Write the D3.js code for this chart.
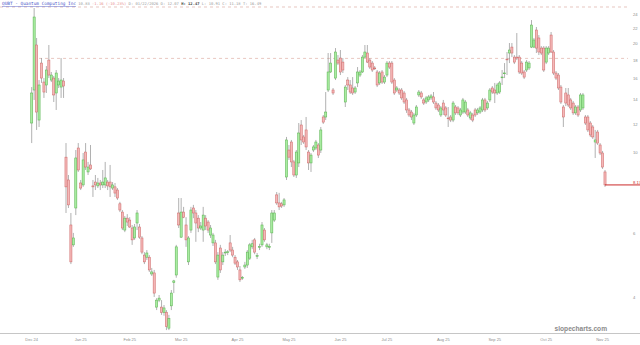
<!DOCTYPE html>
<html>
<head>
<meta charset="utf-8">
<script src="https://cdn.jsdelivr.net/npm/d3@7"></script>
<style>
  body { margin: 0; background: #fff; }
</style>
</head>
<body>
<script>
// QUBT daily candles (log price scale)
var open = [
  12.09,14.90,19.81,12.32,17.67,15.67,15.38,18.01,15.87,16.07,14.62,15.38,15.18,15.77,
  9.74,8.43,6.34,5.59,7.06,10.32,8.27,8.17,10.06,8.87,9.27,8.12,8.32,8.12,8.27,8.17,
  8.17,8.32,8.32,8.01,8.07,7.91,7.25,6.88,6.14,6.62,
  6.54,6.22,5.84,6.42,6.26,5.84,5.24,5.17,5.17,4.65,
  4.68,3.77,3.94,3.77,3.64,3.65,3.30,3.80,4.40,4.62,
  6.84,5.87,6.88,6.34,5.02,6.14,7.06,6.84,6.62,6.22,
  6.14,6.62,6.46,5.95,5.66,5.66,4.56,5.48,5.02,5.31,
  5.34,5.66,5.41,5.17,5.02,4.77,4.54,4.86,4.92,5.14,
  5.52,5.77,5.21,5.52,5.59,6.14,5.52,5.52,6.03,6.54,
  7.67,7.29,7.25,7.20,8.59,10.19,10.72,9.45,8.70,9.39,
  11.94,11.07,11.57,10.06,9.39,10.19,10.32,10.52,10.19,12.56,
  12.56,14.90,16.70,14.90,16.07,18.01,18.24,17.78,13.81,15.87,
  15.38,15.09,14.71,15.58,16.38,16.70,18.35,18.83,18.01,17.67,
  17.13,16.70,15.58,16.70,15.67,16.38,17.67,17.67,15.87,14.90,
  14.90,14.90,14.62,13.99,13.13,12.96,12.09,12.72,14.44,14.62,
  13.99,13.81,13.99,14.17,14.26,13.72,13.55,12.72,13.72,13.30,
  12.48,12.56,12.32,13.38,13.30,12.72,12.96,12.96,13.13,12.48,
  12.72,13.13,12.89,12.96,13.13,13.99,13.30,13.99,15.09,14.90,
  14.62,14.71,16.17,16.59,18.12,18.83,19.55,18.35,18.35,18.35,
  17.67,16.70,16.91,17.13,19.55,19.55,21.78,20.71,19.43,19.43,
  17.78,18.83,21.10,18.95,16.59,16.38,15.18,13.38,14.62,14.44,
  13.99,13.72,12.89,13.38,13.13,13.30,12.56,12.56,12.09,11.79,
  10.72,11.42,10.52,10.00,8.87
];
var high = [
  15.18,25.03,20.71,15.87,18.24,16.07,17.34,19.81,16.70,16.28,16.91,16.07,18.24,16.07,
  10.65,8.70,6.84,6.03,10.19,10.65,8.43,10.00,10.65,9.45,10.52,8.43,8.70,8.54,8.43,8.98,
  9.45,8.43,9.27,8.32,8.27,8.01,7.34,6.97,6.71,6.79,
  6.66,6.34,6.38,6.97,6.38,5.91,5.34,5.41,5.24,4.83,
  4.77,3.99,4.07,3.94,3.82,3.70,3.59,4.20,4.48,5.59,
  7.52,7.52,7.11,6.66,5.91,7.11,7.20,6.97,6.75,6.46,
  7.11,6.75,6.54,6.34,6.03,5.77,5.34,5.59,5.34,5.44,
  5.41,5.95,5.52,5.24,5.08,4.89,4.59,5.02,5.41,5.66,
  5.77,5.84,5.31,5.63,6.46,6.22,5.66,5.63,6.97,6.97,
  7.81,7.77,7.34,7.52,11.07,10.52,10.86,9.57,10.19,12.09,
  12.32,11.21,12.56,10.19,10.00,10.52,10.86,10.65,11.79,12.72,
  14.71,18.83,18.83,15.09,19.43,18.59,19.19,18.24,15.38,16.17,
  15.87,16.17,15.28,17.23,16.91,18.59,19.81,19.81,18.24,17.90,
  17.34,16.91,16.80,16.91,16.38,17.90,17.90,17.90,16.07,15.28,
  15.09,15.09,14.81,14.17,13.30,13.13,12.89,13.55,14.90,14.81,
  14.17,14.35,14.44,14.53,14.71,13.90,13.72,13.46,13.99,13.46,
  13.38,12.72,13.90,13.55,13.46,13.30,14.17,13.99,13.30,13.05,
  12.89,13.30,13.30,13.46,14.17,14.17,13.90,15.09,15.28,15.58,
  15.58,15.77,16.91,17.67,18.95,20.06,20.06,18.59,21.37,18.59,
  17.90,16.91,18.01,17.90,23.20,20.71,22.20,21.10,19.68,19.68,
  19.68,19.68,21.51,19.19,16.80,16.59,15.38,13.55,15.09,15.09,
  14.17,13.90,13.55,13.55,14.62,14.62,12.72,12.72,12.24,11.94,
  11.57,11.57,10.65,10.13,8.98
];
var low = [
  10.65,13.99,11.57,11.79,15.58,14.17,14.62,16.07,15.67,13.81,13.13,15.09,14.17,14.17,
  6.84,7.06,4.95,5.52,6.75,8.87,7.91,8.07,8.98,8.70,8.98,7.57,7.91,8.01,7.91,8.01,
  8.01,7.91,7.57,7.91,7.57,7.43,6.88,6.14,6.06,6.30,
  6.22,5.59,5.77,6.14,5.81,5.27,4.95,5.08,4.71,4.59,
  4.02,3.70,3.89,3.59,3.57,3.26,3.26,3.70,4.12,4.54,
  6.22,5.84,6.62,5.52,4.92,6.03,6.62,5.70,6.06,6.14,
  5.70,6.14,6.03,5.84,5.55,4.95,4.48,4.68,4.92,5.21,
  5.24,5.34,5.17,4.92,4.77,4.42,4.48,4.80,4.83,5.08,
  5.44,5.27,5.11,5.41,5.52,5.70,5.44,5.41,5.66,6.46,
  7.20,6.97,7.06,7.11,8.43,9.57,9.15,8.59,8.54,9.15,
  10.52,10.59,10.19,8.98,8.87,10.06,10.19,9.69,10.00,12.02,
  12.32,14.71,16.59,14.44,15.87,17.45,16.38,16.59,13.38,14.90,
  14.53,14.44,14.53,15.18,16.17,16.59,18.24,17.67,17.02,16.70,
  16.91,15.18,15.38,15.48,15.48,16.17,17.02,15.48,14.44,14.71,
  14.44,13.99,13.64,12.89,12.56,12.32,11.94,12.56,14.26,14.08,
  13.55,13.64,13.81,13.99,13.64,13.13,12.96,12.56,12.72,12.56,
  11.79,12.16,12.16,12.72,12.72,12.56,12.80,12.80,12.56,12.32,
  12.16,12.56,12.72,12.80,12.96,12.96,13.13,13.81,14.53,13.72,
  14.44,14.53,15.38,16.07,16.38,17.67,18.35,17.56,18.01,16.49,
  16.38,15.97,16.70,16.91,19.43,19.43,18.83,18.59,18.59,16.70,
  17.56,18.59,18.83,16.38,15.87,14.90,13.64,11.79,13.46,13.38,
  13.13,12.72,12.72,12.56,12.96,13.13,11.94,11.42,11.07,10.93,
  9.69,10.52,9.87,9.04,8.07
];
var close = [
  14.62,23.65,12.96,15.38,16.07,14.71,16.91,16.38,16.38,14.44,16.59,15.77,15.87,15.28,
  8.07,7.20,5.02,5.84,9.69,8.98,8.01,9.57,9.15,9.15,9.04,8.07,8.17,8.27,8.17,8.32,
  8.54,8.12,8.07,8.17,7.76,7.52,6.97,6.22,6.62,6.46,
  6.26,5.77,6.26,6.84,5.87,5.34,5.02,5.31,4.77,4.71,
  4.12,3.94,3.99,3.64,3.75,3.33,3.51,4.12,4.45,5.52,
  6.34,6.88,6.66,5.77,5.84,6.97,6.84,6.42,6.22,6.30,
  6.75,6.30,6.14,6.22,5.95,5.02,5.24,4.77,5.24,5.34,
  5.35,5.41,5.24,4.98,4.86,4.48,4.55,4.92,5.34,5.59,
  5.63,5.34,5.22,5.53,6.34,5.77,5.59,5.53,6.84,6.84,
  7.29,7.11,7.15,7.43,10.86,9.74,9.45,8.70,10.06,11.35,
  10.86,10.72,10.39,9.39,9.87,10.39,10.72,9.87,11.57,12.16,
  12.96,16.70,17.67,14.62,18.95,17.67,16.70,16.91,15.18,15.38,
  14.71,14.62,15.09,16.70,16.70,18.35,18.95,17.78,17.23,16.91,
  17.12,15.38,16.59,15.67,16.17,17.67,17.23,15.67,14.62,15.09,
  14.62,14.17,13.81,13.13,12.72,12.56,12.72,13.38,14.71,14.26,
  13.72,14.17,14.26,14.35,13.81,13.30,13.13,13.30,13.13,12.72,
  12.47,12.32,13.72,12.89,12.89,13.13,13.99,13.81,12.72,12.89,
  12.32,12.72,13.13,13.30,13.99,13.13,13.72,14.90,14.71,14.62,
  15.38,15.58,16.18,16.60,18.11,19.19,18.83,17.78,18.24,16.70,
  16.59,16.17,17.78,17.67,22.48,20.45,19.43,18.95,18.83,16.91,
  19.43,19.43,18.95,16.59,16.07,15.09,13.81,12.56,13.72,13.55,
  13.30,12.89,13.38,12.72,14.44,14.44,12.09,11.57,11.21,11.07,
  10.86,10.65,10.00,9.15,8.17
];

// month labels and the bar index where each one sits
var monthLabels = ["Dec 24","Jan 25","Feb 25","Mar 25","Apr 25","May 25","Jun 25","Jul 25","Aug 25","Sep 25","Oct 25","Nov 25"];
var monthIndex  = [0, 20, 40, 61, 84, 105, 126, 145, 168, 189, 210, 233];

var priceTicks = [4, 6, 8, 10, 12, 14, 16, 18, 20, 22, 24];

// dashed horizontal levels
var levelPrice = [25.2, 18.2];
var levelFrom  = [null, 3];

(function() {
  var width = 640, height = 345;
  var N = close.length;
  var last = close[N - 1];

  var svg = d3.select("body").append("svg")
    .attr("width", width)
    .attr("height", height)
    .style("display", "block");

  var x = d3.scaleLinear().domain([0, N - 1]).range([31.7, 605]);
  var y = d3.scaleLog().domain([3.2, 26.34]).range([333, 0]);

  // dashed levels
  levelPrice.forEach(function(p, k) {
    svg.append("line")
      .attr("x1", levelFrom[k] === null ? 0 : x(levelFrom[k]))
      .attr("x2", 628)
      .attr("y1", y(p))
      .attr("y2", y(p))
      .attr("stroke", "#e2b9b0")
      .attr("stroke-width", 0.8)
      .attr("stroke-dasharray", "3,3");
  });

  // header
  var header = svg.append("text")
    .attr("x", 2)
    .attr("y", 5)
    .style("font-family", "'DejaVu Sans Mono', monospace")
    .style("font-size", "3.8px")
    .attr("fill", "#9a9a9a");
  header.append("tspan")
    .text("QUBT - Quantum Computing Inc")
    .style("font-size", "4.4px")
    .attr("fill", "#4a55c8")
    .style("text-decoration", "underline");
  header.append("tspan").text("  10.83 ");
  header.append("tspan").text("-1.16 (-10.23%)").attr("fill", "#e89090");
  header.append("tspan").text("  D: 01/22/2026  O: 12.07 ");
  header.append("tspan").text("H: 12.47").attr("fill", "#444").style("font-weight", "bold");
  header.append("tspan").text("  L: 10.91  C: 11.18  T: 16.49");

  // bottom axis line
  svg.append("line")
    .attr("x1", 0).attr("x2", width)
    .attr("y1", 333.5).attr("y2", 333.5)
    .attr("stroke", "#c6c6c6")
    .attr("stroke-width", 1.2);

  svg.selectAll(".mlabel")
    .data(monthLabels)
    .enter().append("text")
    .attr("class", "mlabel")
    .attr("x", function(d, i) { return x(monthIndex[i]); })
    .attr("y", 340.5)
    .attr("text-anchor", "middle")
    .style("font-family", "'Liberation Sans', Arial, sans-serif")
    .style("font-size", "4px")
    .attr("fill", "#8c8c8c")
    .text(function(d) { return d; });

  // right price labels (skip the ones hidden by the last price tag)
  svg.selectAll(".plabel")
    .data(priceTicks.filter(function(v) { return Math.abs(y(v) - y(last)) > 6; }))
    .enter().append("text")
    .attr("class", "plabel")
    .attr("x", 633)
    .attr("y", function(d) { return y(d); })
    .attr("dy", "0.35em")
    .style("font-family", "'Liberation Sans', Arial, sans-serif")
    .style("font-size", "4.2px")
    .attr("fill", "#8c8c8c")
    .text(function(d) { return d; });

  // candles
  var candles = svg.append("g");
  var bodyW = 2.1;

  for (var i = 0; i < N; i++) {
    var up = close[i] >= open[i];
    var cx = x(i);
    candles.append("line")
      .attr("x1", cx).attr("x2", cx)
      .attr("y1", y(high[i])).attr("y2", y(low[i]))
      .attr("stroke", "#8f8f8f")
      .attr("stroke-width", 0.7);
    var bodyTop = y(Math.max(open[i], close[i]));
    var bodyH = Math.abs(y(open[i]) - y(close[i]));
    candles.append("rect")
      .attr("x", cx - bodyW / 2)
      .attr("y", bodyTop)
      .attr("width", bodyW)
      .attr("height", Math.max(bodyH, 0.8))
      .attr("fill", up ? "#a9eda1" : "#f5b8b8")
      .attr("stroke", up ? "#5cb453" : "#cf6a6a")
      .attr("stroke-width", 0.55);
  }

  // last price line and tag
  svg.append("line")
    .attr("x1", x(N - 1)).attr("x2", width)
    .attr("y1", y(last)).attr("y2", y(last))
    .attr("stroke", "#cc2a2a")
    .attr("stroke-width", 1);
  svg.append("text")
    .attr("x", 633)
    .attr("y", y(last) - 1.2)
    .style("font-family", "'Liberation Sans', Arial, sans-serif")
    .style("font-size", "4.2px")
    .attr("fill", "#cc2a2a")
    .text(last.toFixed(2));

  // watermark
  svg.append("text")
    .attr("x", 607)
    .attr("y", 331)
    .attr("text-anchor", "end")
    .style("font-family", "'Liberation Sans', Arial, sans-serif")
    .style("font-size", "6.6px")
    .style("font-weight", "bold")
    .attr("fill", "#8a8a8a")
    .text("slopecharts.com");
})();
</script>
</body>
</html>
